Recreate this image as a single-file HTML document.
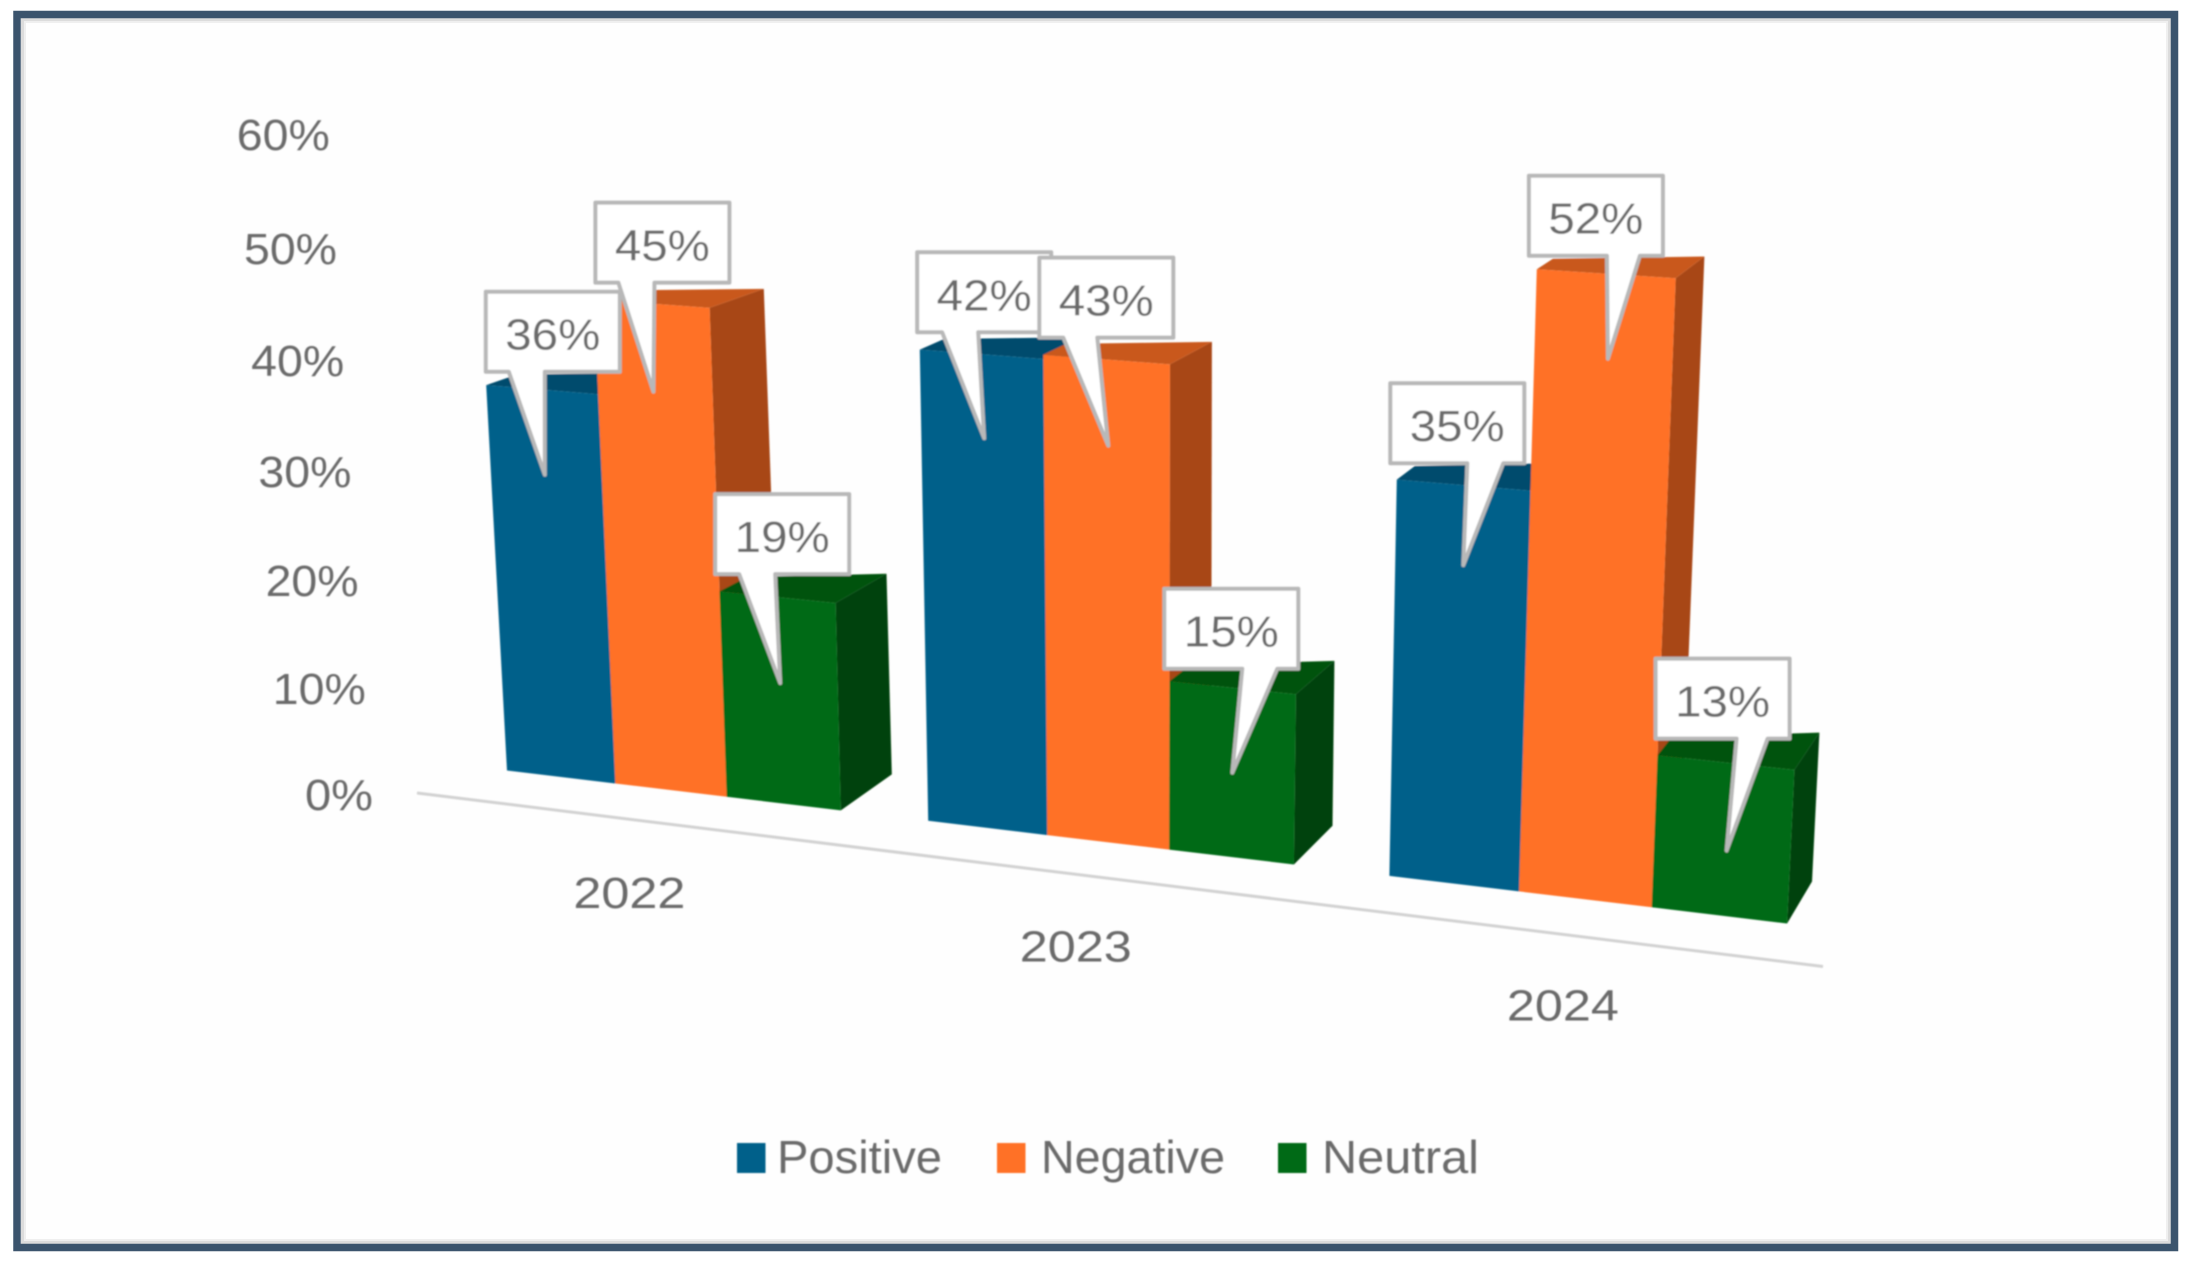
<!DOCTYPE html>
<html lang="en">
<head>
<meta charset="utf-8">
<title>Sentiment by year</title>
<style>
  html, body { margin: 0; padding: 0; background: #fff; }
  body { width: 2192px; height: 1264px; overflow: hidden; }
  svg { display: block; }
  text { font-family: "Liberation Sans", sans-serif; fill: #6b6b6b; }
</style>
</head>
<body>
<svg id="chart" xmlns="http://www.w3.org/2000/svg" width="2192" height="1264" viewBox="0 0 2192 1264">
  <defs>
    <filter id="soft" x="-5%" y="-5%" width="110%" height="110%"><feGaussianBlur stdDeviation="0.8"/></filter>
  </defs>
  <rect x="0" y="0" width="2192" height="1264" fill="#ffffff"/>
  <rect x="24" y="21" width="2144" height="1220" fill="#fefefe" stroke="#efefef" stroke-width="4"/>
  <rect x="22.5" y="19.5" width="2147" height="1223" fill="none" stroke="#dcdcdc" stroke-width="3"/>
  <rect x="17" y="14.5" width="2157.5" height="1233" fill="none" stroke="#3b546d" stroke-width="7.5"/>
  <g id="plot" filter="url(#soft)"></g>
</svg>
<script>
const categories = ['2022', '2023', '2024'];
const seriesNames = ['Positive', 'Negative', 'Neutral'];
const positiveValues = [36, 42, 35];
const negativeValues = [45, 43, 52];
const neutralValues = [19, 15, 13];
const tickLabels = ['0%', '10%', '20%', '30%', '40%', '50%', '60%'];
const tickValues = [0, 10, 20, 30, 40, 50, 60];

const seriesValues = [positiveValues, negativeValues, neutralValues];
const frontColors = ['#00618a', '#ff7128', '#006b18'];
const topColors = ['#004c6d', '#c9581b', '#005209'];
const sideColors = ['#004260', '#a84716', '#00420a'];
const NS = 'http://www.w3.org/2000/svg';
const plot = document.getElementById('plot');

/* Perspective axis functions */
function groundX(t) { return 507 + 107 * t + 1.42 * t * t; }
function groundY(x) { return 770.5 + (x - 507) * 0.1195; }
function project(t, value, depth) {
  const bx = groundX(t);
  const by = groundY(bx);
  const ux = 0.00089 * (bx - 1150);
  const uy = -(10.6 + (bx - 507) * 0.00095);
  const ddx = (74.1 - 0.0275 * bx) * depth;
  const ddy = -(36 + 0.0063 * (bx - 841) - 0.36 * value) * depth;
  return [bx + ux * value + ddx, by + uy * value + ddy];
}
function slot(groupIndex, seriesIndex) { return groupIndex * 3.75 + seriesIndex; }
function tickY(v) { return 794 - 10.55 * v - 0.0075 * v * v; }
function tickRight(v) { return 373 - 0.72 * v; }

/* Per-bar perspective correction applied on top of the value scale */
const perspectiveScale = [[1.01, 1.005, 1], [1.02, 1.005, 1], [0.99, 1.035, 1]];
function barHeight(g, s) { return seriesValues[s][g] * perspectiveScale[g][s]; }

function make(tag, parent) {
  const el = document.createElementNS(NS, tag);
  (parent || plot).appendChild(el);
  return el;
}
function pts(list) { return list.map(p => p[0].toFixed(1) + ',' + p[1].toFixed(1)).join(' '); }

/* Axis baseline */
const axisLine = make('line');


axisLine.setAttribute('x1', 417);
axisLine.setAttribute('y1', 793);
axisLine.setAttribute('x2', 1823);
axisLine.setAttribute('y2', 966.5);
axisLine.setAttribute('stroke', '#d2d2d2');
axisLine.setAttribute('stroke-width', 3);

/* Value axis labels */
tickValues.forEach((v, i) => {
  const el = make('text');
  
  
  el.setAttribute('x', tickRight(v));
  el.setAttribute('y', tickY(v) + 16);
  el.setAttribute('text-anchor', 'end');
  el.setAttribute('font-size', 44);
  el.setAttribute('textLength', v === 0 ? 68 : 93);
  el.setAttribute('lengthAdjust', 'spacingAndGlyphs');
  el.textContent = tickLabels[i];
});

/* Category labels */
const categoryLabelDy = [118, 119, 121];
categories.forEach((c, g) => {
  const t = slot(g, 1.5);
  const bx = groundX(t);
  const el = make('text');
  
  
  el.setAttribute('x', bx - 0.76 * (74.1 - 0.0275 * bx) + 1);
  el.setAttribute('y', groundY(bx) + categoryLabelDy[g]);
  el.setAttribute('text-anchor', 'middle');
  el.setAttribute('font-size', 44);
  el.setAttribute('textLength', 112);
  el.setAttribute('lengthAdjust', 'spacingAndGlyphs');
  el.textContent = c;
});

/* Bars */
categories.forEach((c, g) => {
  seriesNames.forEach((name, s) => {
    const v = barHeight(g, s);
    const l = slot(g, s), r = l + 1;
    const side = make('polygon');
    
    
    side.setAttribute('fill', sideColors[s]);
    side.setAttribute('points', pts([project(r, 0, 0), project(r, 0, 1), project(r, v, 1), project(r, v, 0)]));
    const top = make('polygon');
    
    
    top.setAttribute('fill', topColors[s]);
    top.setAttribute('points', pts([project(l, v, 0), project(r, v, 0), project(r, v, 1), project(l, v, 0.5)]));
    const front = make('polygon');
    
    
    front.setAttribute('fill', frontColors[s]);
    front.setAttribute('points', pts([project(l, 0, 0), project(r, 0, 0), project(r, v, 0), project(l, v, 0)]));
  });
});

/* Callout layout, relative to each bar's top: tip offset, box offset from tip, pointer base within box */
const calloutLayout = [
  [[3, 85, -59, -183, 23, 59], [2, 88, -58, -189, 23, 59], [3, 86, -65, -189, 24, 60]],
  [[3, 84, -67, -186, 25, 61], [2, 86, -69, -188, 24, 58], [0, 85, -68, -184, 78, 113]],
  [[0, 80, -73, -182, 77, 113], [2, 85, -79, -183, 78, 111], [1, 88, -71, -192, 81, 112]]
];
const boxW = 134, boxH = 80;
categories.forEach((c, g) => {
  seriesNames.forEach((name, s) => {
    const a = project(slot(g, s) + 0.5, barHeight(g, s), 0);
    const L = calloutLayout[g][s];
    const tip = [a[0] + L[0], a[1] + L[1]];
    const x0 = tip[0] + L[2], y0 = tip[1] + L[3];
    const shape = [[x0, y0], [x0 + boxW, y0], [x0 + boxW, y0 + boxH], [x0 + L[5], y0 + boxH], tip, [x0 + L[4], y0 + boxH], [x0, y0 + boxH]];
    const box = make('polygon');
    
    
    box.setAttribute('fill', '#ffffff');
    box.setAttribute('stroke', '#b8b8b8');
    box.setAttribute('stroke-width', 4);
    box.setAttribute('stroke-linejoin', 'round');
    box.setAttribute('points', pts(shape));
    const label = make('text');
    
    
    label.setAttribute('x', x0 + boxW / 2);
    label.setAttribute('y', y0 + 58);
    label.setAttribute('text-anchor', 'middle');
    label.setAttribute('font-size', 44);
    label.setAttribute('textLength', 95);
    label.setAttribute('lengthAdjust', 'spacingAndGlyphs');
    label.textContent = seriesValues[s][g] + '%';
  });
});

/* Legend */
const legendSwatchX = [737, 997, 1278];
const legendTextX = [777, 1041, 1322];
const legendTextW = [165, 184, 157];
seriesNames.forEach((name, s) => {
  const sw = make('rect');
  
  
  sw.setAttribute('x', legendSwatchX[s]);
  sw.setAttribute('y', 1143);
  sw.setAttribute('width', 28.5);
  sw.setAttribute('height', 30);
  sw.setAttribute('fill', frontColors[s]);
  const tx = make('text');
  
  
  tx.setAttribute('x', legendTextX[s]);
  tx.setAttribute('y', 1173);
  tx.setAttribute('font-size', 46);
  tx.setAttribute('textLength', legendTextW[s]);
  tx.setAttribute('lengthAdjust', 'spacingAndGlyphs');
  tx.textContent = name;
});
</script>
</body>
</html>
